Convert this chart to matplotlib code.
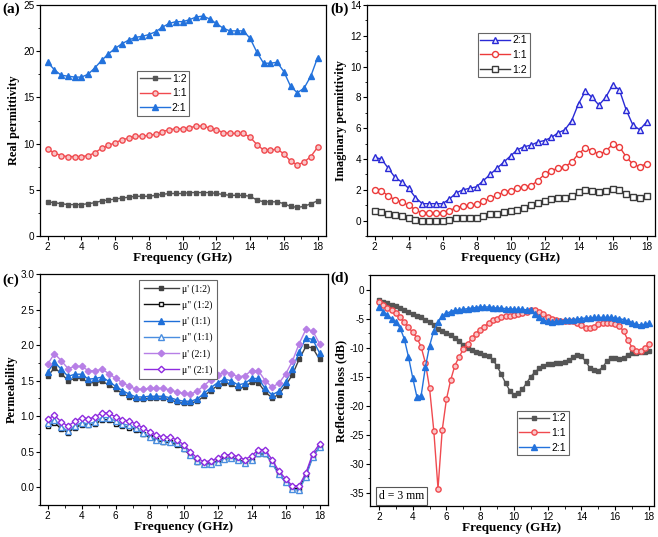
import numpy as np
import matplotlib.pyplot as plt
from matplotlib.ticker import MultipleLocator

plt.rcParams['font.family'] = ['Liberation Sans', 'DejaVu Sans']
plt.rcParams['axes.unicode_minus'] = False

# =========================
# DATA
# =========================
freq = np.round(np.arange(2, 18.01, 0.4), 1)      # 41 points, panels a-c
freq_rl = np.arange(2, 18.01, 0.25)                # 65 points, panel d

# (a) real permittivity
real_12 = [3.7, 3.6, 3.5, 3.4, 3.4, 3.4, 3.5, 3.6, 3.8, 3.9, 4.0, 4.1, 4.2, 4.3, 4.3, 4.3, 4.4,
           4.5, 4.6, 4.6, 4.6, 4.7, 4.7, 4.7, 4.7, 4.6, 4.5, 4.4, 4.4, 4.4, 4.3, 3.9, 3.7, 3.7,
           3.7, 3.5, 3.2, 3.1, 3.2, 3.5, 3.8]
real_11 = [9.4, 9.0, 8.7, 8.6, 8.6, 8.6, 8.7, 9.0, 9.5, 9.8, 10.1, 10.4, 10.6, 10.8, 10.8, 10.9,
           11.0, 11.3, 11.5, 11.6, 11.6, 11.7, 11.9, 11.9, 11.7, 11.5, 11.2, 11.1, 11.1, 11.1,
           10.7, 9.9, 9.3, 9.3, 9.4, 8.9, 8.1, 7.7, 8.0, 8.6, 9.6]
real_21 = [18.8, 18.0, 17.4, 17.3, 17.2, 17.2, 17.5, 18.2, 19.0, 19.7, 20.3, 20.8, 21.2, 21.5,
           21.6, 21.8, 22.1, 22.6, 23.0, 23.2, 23.2, 23.4, 23.7, 23.8, 23.5, 23.0, 22.5, 22.2,
           22.2, 22.2, 21.4, 19.9, 18.7, 18.7, 18.8, 17.8, 16.2, 15.5, 16.0, 17.3, 19.3]

# (b) imaginary permittivity
imag_21 = [4.1, 4.0, 3.4, 2.8, 2.5, 2.1, 1.5, 1.1, 1.1, 1.1, 1.1, 1.4, 1.8, 2.0, 2.1, 2.2, 2.6,
           3.0, 3.4, 3.8, 4.2, 4.6, 4.8, 4.9, 5.1, 5.2, 5.4, 5.7, 5.9, 6.5, 7.6, 8.4, 8.0, 7.5,
           8.0, 8.8, 8.5, 7.2, 6.2, 5.9, 6.4]
imag_11 = [2.0, 1.95, 1.6, 1.35, 1.2, 1.0, 0.7, 0.5, 0.5, 0.5, 0.5, 0.65, 0.85, 0.95, 1.0, 1.05,
           1.25, 1.45, 1.65, 1.85, 1.95, 2.1, 2.2, 2.25, 2.6, 3.0, 3.25, 3.4, 3.5, 3.8, 4.35,
           4.7, 4.55, 4.3, 4.5, 4.95, 4.8, 4.15, 3.65, 3.5, 3.7]
imag_12 = [0.6, 0.55, 0.45, 0.35, 0.3, 0.2, 0.05, 0.0, 0.0, 0.0, 0.0, 0.05, 0.15, 0.2, 0.2, 0.2,
           0.3, 0.4, 0.45, 0.55, 0.6, 0.7, 0.85, 1.0, 1.15, 1.3, 1.4, 1.45, 1.5, 1.6, 1.85, 2.0,
           1.95, 1.85, 1.95, 2.05, 2.0, 1.75, 1.55, 1.5, 1.6]

# (c) permeability
mu1_12 = [1.56, 1.68, 1.60, 1.50, 1.53, 1.53, 1.47, 1.47, 1.49, 1.44, 1.38, 1.32, 1.27, 1.24,
          1.24, 1.25, 1.25, 1.25, 1.23, 1.20, 1.18, 1.18, 1.21, 1.28, 1.36, 1.43, 1.47, 1.45,
          1.39, 1.41, 1.48, 1.47, 1.34, 1.26, 1.30, 1.43, 1.58, 1.80, 1.98, 1.96, 1.80]
mu2_12 = [0.86, 0.91, 0.82, 0.77, 0.84, 0.88, 0.87, 0.89, 0.95, 0.95, 0.89, 0.86, 0.84, 0.81,
          0.75, 0.70, 0.66, 0.64, 0.63, 0.60, 0.54, 0.45, 0.36, 0.33, 0.34, 0.37, 0.40, 0.41,
          0.39, 0.35, 0.39, 0.47, 0.47, 0.35, 0.19, 0.08, -0.02, -0.02, 0.17, 0.44, 0.56]
mu1_11 = [1.62, 1.76, 1.66, 1.56, 1.59, 1.59, 1.52, 1.53, 1.55, 1.49, 1.42, 1.36, 1.31, 1.27,
          1.27, 1.28, 1.28, 1.28, 1.26, 1.23, 1.21, 1.21, 1.24, 1.32, 1.40, 1.47, 1.52, 1.50,
          1.44, 1.46, 1.53, 1.53, 1.39, 1.30, 1.35, 1.48, 1.66, 1.90, 2.10, 2.08, 1.89]
mu2_11 = [0.90, 0.95, 0.85, 0.79, 0.86, 0.91, 0.89, 0.92, 0.98, 0.98, 0.93, 0.89, 0.87, 0.83,
          0.77, 0.71, 0.67, 0.65, 0.64, 0.62, 0.55, 0.46, 0.37, 0.32, 0.33, 0.36, 0.40, 0.41,
          0.38, 0.34, 0.39, 0.48, 0.48, 0.34, 0.18, 0.07, -0.03, -0.04, 0.15, 0.42, 0.57]
mu1_21 = [1.73, 1.88, 1.78, 1.67, 1.70, 1.70, 1.64, 1.64, 1.66, 1.60, 1.53, 1.47, 1.42, 1.38,
          1.38, 1.39, 1.39, 1.39, 1.37, 1.34, 1.32, 1.31, 1.35, 1.43, 1.51, 1.58, 1.62, 1.60,
          1.55, 1.57, 1.64, 1.64, 1.50, 1.41, 1.46, 1.59, 1.77, 2.02, 2.22, 2.20, 2.02]
mu2_21 = [0.96, 1.01, 0.92, 0.86, 0.93, 0.98, 0.96, 0.99, 1.05, 1.04, 0.99, 0.95, 0.93, 0.89,
          0.84, 0.78, 0.73, 0.71, 0.70, 0.67, 0.60, 0.50, 0.41, 0.36, 0.37, 0.41, 0.45, 0.46,
          0.43, 0.39, 0.44, 0.53, 0.53, 0.39, 0.23, 0.12, 0.02, 0.02, 0.20, 0.47, 0.61]

# (d) reflection loss, d = 3 mm
rl_12 = [-1.8, -2.1, -2.4, -2.6, -2.8, -3.1, -3.5, -3.9, -4.2, -4.5, -4.8, -5.2, -5.6, -6.1,
         -6.8, -7.2, -7.5, -7.9, -8.4, -8.9, -9.5, -10.1, -10.5, -10.8, -11.0, -11.2, -11.5,
         -12.1, -13.2, -14.6, -16.1, -17.4, -18.1, -17.9, -17.2, -16.1, -15.0, -14.2, -13.6,
         -13.2, -12.9, -12.8, -12.7, -12.6, -12.5, -12.2, -11.7, -11.2, -11.5, -12.4, -13.5,
         -13.9, -14.0, -13.4, -12.4, -11.8, -11.8, -11.9, -11.8, -11.3, -11.0, -10.9, -10.8,
         -10.8, -10.6]
rl_11 = [-2.1, -2.7, -3.2, -3.6, -4.1, -4.8, -5.6, -6.5, -7.4, -8.3, -9.9, -12.6, -17.0, -24.3,
         -34.3, -24.2, -18.9, -15.6, -13.1, -11.6, -10.3, -9.4, -8.4, -7.6, -6.9, -6.4, -5.7,
         -5.3, -5.0, -4.8, -4.6, -4.5, -4.4, -4.2, -4.0, -3.8, -3.6, -3.6, -3.9, -4.3, -4.7,
         -5.0, -5.2, -5.4, -5.4, -5.4, -5.5, -5.8, -6.2, -6.6, -6.7, -6.4, -6.0, -5.8, -5.7,
         -5.7, -5.9, -6.3, -7.2, -8.7, -10.0, -10.6, -10.6, -10.1, -9.4]
rl_21 = [-3.0, -3.8, -4.4, -5.0, -5.6, -6.6, -8.5, -11.6, -15.2, -18.5, -18.3, -13.4, -9.7,
         -7.1, -5.6, -4.6, -4.1, -3.8, -3.6, -3.5, -3.4, -3.3, -3.2, -3.1, -3.0, -3.0, -3.0,
         -3.1, -3.2, -3.2, -3.3, -3.3, -3.4, -3.4, -3.4, -3.5, -3.6, -4.2, -4.8, -5.2, -5.5,
         -5.6, -5.5, -5.4, -5.3, -5.2, -5.2, -5.1, -5.0, -4.9, -4.9, -4.8, -4.8, -4.8, -4.8,
         -4.8, -4.9, -5.0, -5.2, -5.4, -5.7, -6.0, -6.1, -6.0, -5.8]

# =========================
# FIGURE
# =========================
W, H = 658, 537
fig = plt.figure(figsize=(W / 100, H / 100), dpi=100)


def box(l, t, r, b):
    return [l / W, 1 - b / H, (r - l) / W, (b - t) / H]


ax_a = fig.add_axes(box(40, 5, 326, 236))
ax_b = fig.add_axes(box(367, 5, 655, 236))
ax_c = fig.add_axes(box(40, 274, 328, 505))
ax_d = fig.add_axes(box(370, 275, 654, 506))

serif = ['Liberation Serif', 'DejaVu Serif']


def style(ax, ylabel, ymajor, yminor):
    ax.set_xlabel('Frequency (GHz)', family=serif, fontweight='bold', fontsize=9.5, labelpad=0)
    ax.set_ylabel(ylabel, family=serif, fontweight='bold', fontsize=8.8, labelpad=2)
    ax.xaxis.set_major_locator(MultipleLocator(2))
    ax.xaxis.set_minor_locator(MultipleLocator(1))
    ax.yaxis.set_major_locator(MultipleLocator(ymajor))
    ax.yaxis.set_minor_locator(MultipleLocator(yminor))
    ax.tick_params(which='major', direction='out', length=3, width=0.8, labelsize=7.2, pad=1)
    ax.tick_params(which='minor', direction='out', length=1.8, width=0.6)
    for s in ax.spines.values():
        s.set_linewidth(0.9)


def legend(ax, x, y, **kw):
    lg = ax.legend(loc='upper left', bbox_to_anchor=(x, y), borderaxespad=0,
                   fancybox=False, framealpha=1, edgecolor='#666666', **kw)
    lg.get_frame().set_linewidth(0.8)
    return lg


small = dict(fontsize=7.5, handlelength=2.9, labelspacing=0.45, borderpad=0.25,
             handletextpad=0.2)

# =========================
# (a) REAL PERMITTIVITY
# =========================
gray, red, blue = '#555555', '#f04a4f', '#2372dc'
ax_a.plot(freq, real_12, '-s', color=gray, ms=3.2, lw=1, label='1:2')
ax_a.plot(freq, real_11, '-o', color=red, mfc='#f9c6c8', ms=3.8, lw=1, label='1:1')
ax_a.plot(freq, real_21, '-^', color=blue, ms=4.3, lw=1, label='2:1')
ax_a.set_xlim(1.55, 18.5)
ax_a.set_ylim(0, 25)
style(ax_a, 'Real permittivity', 5, 2.5)
legend(ax_a, 0.339, 0.714, **small)

# =========================
# (b) IMAGINARY PERMITTIVITY
# =========================
ax_b.plot(freq, imag_21, '-^', color='#2a2ad6', mfc='#e8e8ff', ms=4.8, lw=1, label='2:1')
ax_b.plot(freq, imag_11, '-o', color='#ec3a3a', mfc='white', ms=4.3, lw=1, label='1:1')
ax_b.plot(freq, imag_12, '-s', color='#3a3a3a', mfc='white', ms=3.8, lw=1, label='1:2')
ax_b.set_xlim(1.55, 18.5)
ax_b.set_ylim(-1, 14)
style(ax_b, 'Imaginary permittivity', 2, 1)
legend(ax_b, 0.384, 0.88, **small)

# =========================
# (c) PERMEABILITY
# =========================
ax_c.plot(freq, mu1_12, '-s', color='#404040', ms=3.3, lw=1, label="μ' (1:2)")
ax_c.plot(freq, mu2_12, '-s', color='#111111', mfc='white', ms=3.3, lw=1, label='μ" (1:2)')
ax_c.plot(freq, mu1_11, '-^', color='#1f6fd8', ms=3.8, lw=1, label="μ' (1:1)")
ax_c.plot(freq, mu2_11, '-^', color='#4a8ee0', mfc='white', ms=3.8, lw=1, label='μ" (1:1)')
ax_c.plot(freq, mu1_21, '-D', color='#b77fe6', ms=3.3, lw=1, label="μ' (2:1)")
ax_c.plot(freq, mu2_21, '-D', color='#8f2be0', mfc='white', ms=3.3, lw=1, label='μ" (2:1)')
ax_c.set_xlim(1.55, 18.5)
ax_c.set_ylim(-0.25, 3.0)
style(ax_c, 'Permeability', 0.5, 0.25)
legend(ax_c, 0.345, 0.975, prop={'family': serif, 'size': 7}, handlelength=3.6,
       labelspacing=0.68, borderpad=0.45, handletextpad=0.3)

# =========================
# (d) REFLECTION LOSS
# =========================
ax_d.plot(freq_rl, rl_12, '-s', color=gray, ms=3.2, lw=1, label='1:2')
ax_d.plot(freq_rl, rl_11, '-o', color=red, mfc='#f9c6c8', ms=3.8, lw=1, label='1:1')
ax_d.plot(freq_rl, rl_21, '-^', color=blue, ms=4.3, lw=1, label='2:1')
ax_d.set_xlim(1.47, 18.3)
ax_d.set_ylim(-37.3, 2.5)
style(ax_d, 'Reflection loss (dB)', 5, 2.5)
legend(ax_d, 0.516, 0.412, **small)
ax_d.text(0.03, 0.03, 'd = 3 mm', transform=ax_d.transAxes, family=serif, fontsize=8.5,
          bbox=dict(boxstyle='square,pad=0.25', fc='white', ec='#555555', lw=0.8))

# =========================
# PANEL LABELS
# =========================
for lab, x, y in [('(a)', 2, 9), ('(b)', 330, 9), ('(c)', 2, 280), ('(d)', 330, 278)]:
    fig.text(x / W, 1 - y / H, lab, family=serif, fontweight='bold', fontsize=11, va='center')

fig.savefig('out.png', dpi=100)
